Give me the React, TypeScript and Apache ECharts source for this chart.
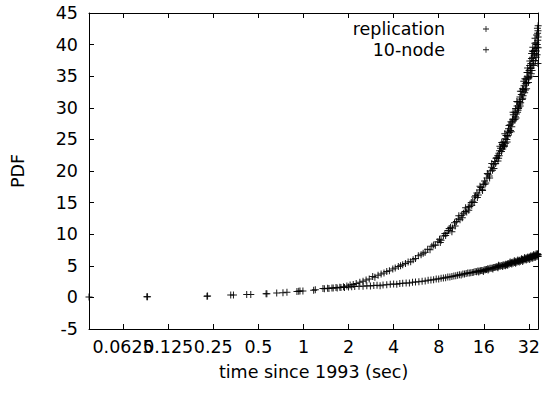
import React, { useEffect, useRef } from "react";
import * as echarts from "echarts";

// ---- axis definitions ----
const xTickLabels = ["0.0625", "0.125", "0.25", "0.5", "1", "2", "4", "8", "16", "32"];
const xMin = 0.037;
const xMax = 36.9;
const yMin = -5;
const yMax = 45;
const yStep = 5;
const xAxisName = "time since 1993 (sec)";
const yAxisName = "PDF";
const seriesNames = ["replication", "10-node"];

// ---- data: [time, pdf] ----
const replicationPoints: [number, number][] = [
  [0.037, 0.05], [0.090, 0.10], [0.227, 0.20], [0.327, 0.38], [0.418, 0.45], [0.563, 0.58], [0.663, 0.70],
  [0.776, 0.80], [0.905, 0.95], [0.948, 1.00], [1.17, 1.15], [1.35, 1.40], [1.45, 1.45], [1.55, 1.50],
  [1.65, 1.55], [1.75, 1.62], [1.85, 1.70], [1.95, 1.82],
  [2.05, 1.95], [2.15, 2.05], [2.25, 2.20], [2.38, 2.40], [2.50, 2.55], [2.62, 2.75], [2.75, 2.90],
  [2.90, 3.30], [3.00, 3.20], [3.15, 3.50], [3.30, 3.70], [3.45, 3.85], [3.60, 4.10], [3.75, 4.20],
  [3.95, 4.50], [4.10, 4.65], [4.30, 4.90], [4.45, 5.00], [4.60, 5.15], [4.80, 5.35], [5.00, 5.60],
  [5.20, 5.65], [5.40, 5.95], [5.60, 6.15], [5.85, 6.60], [6.10, 6.75], [6.30, 7.00], [6.50, 7.15],
  [6.75, 7.60], [7.00, 7.55], [7.20, 8.10], [7.40, 8.30], [7.60, 8.25], [7.90, 8.80], [8.10, 9.20],
  [8.30, 9.05], [8.60, 9.70], [8.80, 10.1], [9.10, 10.2], [9.40, 10.9], [9.60, 11.1], [9.90, 11.0],
  [10.2, 11.8], [10.5, 12.0], [10.8, 12.4], [11.1, 12.3], [11.4, 13.0], [11.7, 13.3], [12.0, 13.6],
  [12.3, 13.5], [12.6, 14.3], [12.9, 14.4], [13.2, 15.0], [13.5, 15.2], [13.8, 15.0], [14.1, 16.1],
  [14.4, 16.5], [14.7, 16.2], [15.0, 17.0], [15.3, 17.4], [15.6, 17.1], [15.9, 17.9], [16.2, 18.4],
  [16.5, 18.1], [16.8, 18.9], [17.1, 19.5], [17.4, 19.2], [17.7, 20.0], [18.0, 20.6], [18.3, 20.1],
  [18.6, 21.0], [18.9, 21.5], [19.2, 21.2], [19.5, 22.1], [19.8, 22.4], [20.1, 22.0], [20.2, 22.8],
  [20.4, 23.2], [20.7, 23.6], [21.0, 23.1], [21.1, 24.5], [21.3, 24.2], [21.6, 24.6], [21.9, 24.0],
  [22.0, 23.9], [22.2, 25.1], [22.4, 24.4], [22.5, 25.6], [22.8, 25.0], [23.0, 25.4], [23.1, 26.3],
  [23.4, 26.7], [23.7, 26.1], [24.0, 27.3], [24.1, 26.4], [24.3, 27.8], [24.6, 27.0], [24.9, 28.2],
  [25.0, 27.9], [25.2, 28.9], [25.5, 28.1], [25.8, 29.3], [26.0, 28.6], [26.1, 29.9], [26.4, 29.0],
  [26.7, 30.3], [26.9, 29.3], [27.0, 30.9], [27.1, 29.6], [27.3, 29.9], [27.6, 31.0], [27.9, 31.7],
  [28.0, 30.3], [28.2, 30.8], [28.5, 32.1], [28.8, 32.6], [29.0, 33.0], [29.1, 31.5], [29.4, 32.9],
  [29.7, 33.5], [30.0, 32.4], [30.1, 34.6], [30.3, 33.8], [30.6, 34.5], [30.9, 33.0], [31.0, 33.9],
  [31.2, 34.9], [31.4, 36.3], [31.5, 35.6], [31.8, 34.0], [32.0, 34.8], [32.1, 35.9], [32.4, 36.7],
  [32.7, 35.0], [33.0, 37.0], [33.1, 36.3], [33.3, 37.8], [33.6, 35.9], [33.9, 38.0], [34.0, 39.6],
  [34.2, 38.9], [34.5, 36.7], [34.8, 39.1], [35.0, 38.6], [35.1, 40.2], [35.4, 37.5], [35.7, 40.3],
  [35.9, 39.0], [36.0, 41.5], [36.3, 38.4], [36.5, 42.6], [36.6, 41.8], [36.7, 40.7], [36.8, 37.0],
  [36.9, 43.0], [36.9, 39.5],
  [8.2, 8.7], [8.9, 9.8], [9.3, 10.6], [9.8, 10.4], [10.3, 11.3], [10.9, 12.9], [11.5, 12.6],
  [12.1, 14.2], [12.7, 13.8], [13.3, 14.6], [13.9, 15.9], [14.5, 15.8], [15.1, 17.6], [15.7, 16.9],
  [16.3, 17.9], [16.9, 19.6], [17.5, 18.9], [18.1, 21.2], [18.7, 20.4], [19.3, 22.0], [19.9, 21.6],
  [20.5, 23.9], [21.4, 23.5], [22.1, 25.9], [22.9, 24.6], [23.6, 27.2], [24.4, 26.2], [25.1, 29.3],
  [25.9, 28.2], [26.6, 31.0], [27.4, 30.1], [28.1, 32.6], [28.9, 31.3], [29.6, 34.2], [30.4, 32.8],
  [31.1, 35.6], [31.9, 34.6], [32.5, 37.4], [33.2, 35.4], [33.8, 39.0], [34.4, 37.4], [35.2, 41.0],
  [35.8, 38.0], [36.4, 40.0], [36.8, 42.2], [36.9, 41.2], [36.2, 39.6], [35.5, 39.4], [34.7, 38.3],
  [34.0, 36.9], [33.4, 38.6], [32.8, 36.2], [30.8, 34.0], [29.3, 31.9], [27.8, 30.6], [26.3, 28.4],
  [24.7, 27.6], [23.2, 25.6], [21.7, 23.8], [20.3, 22.4],
];

const tenNodePoints: [number, number][] = [
  [0.091, 0.12], [0.229, 0.22], [0.341, 0.37], [0.445, 0.47], [0.57, 0.58], [0.730, 0.75], [0.930, 0.97],
  [0.992, 1.00], [1.20, 1.20], [1.38, 1.35], [1.48, 1.42], [1.58, 1.48], [1.68, 1.50], [1.78, 1.55],
  [1.88, 1.58], [2.00, 1.65], [2.10, 1.70], [2.20, 1.72], [2.35, 1.75], [2.50, 1.78], [2.65, 1.85],
  [2.80, 1.82], [2.95, 1.88], [3.10, 1.92], [3.25, 1.86], [3.40, 1.98], [3.60, 2.02], [3.80, 2.08],
  [4.00, 2.12], [4.20, 2.08], [4.40, 2.20], [4.60, 2.24], [4.85, 2.28], [5.10, 2.26], [5.35, 2.38],
  [5.60, 2.42], [5.90, 2.48], [6.20, 2.55], [6.50, 2.60], [6.80, 2.70], [7.10, 2.74], [7.40, 2.80],
  [7.70, 2.90], [8.00, 2.92], [8.30, 3.02], [8.60, 3.08], [8.90, 3.12], [9.20, 3.22], [9.50, 3.24],
  [9.80, 3.30], [10.1, 3.40], [10.4, 3.42], [10.7, 3.50], [11.0, 3.58], [11.3, 3.56], [11.6, 3.70],
  [11.9, 3.72], [12.2, 3.78], [12.5, 3.88], [12.8, 3.86], [13.1, 3.90], [13.4, 3.94], [13.7, 3.98],
  [14.0, 4.08], [14.3, 4.04], [14.6, 4.16], [14.9, 4.18], [15.2, 4.22], [15.5, 4.26], [15.8, 4.24],
  [16.1, 4.36], [16.4, 4.38], [16.7, 4.42], [17.0, 4.52], [17.3, 4.48], [17.6, 4.60], [17.9, 4.62],
  [18.2, 4.60], [18.5, 4.72], [18.8, 4.74], [19.1, 4.76], [19.4, 4.86], [19.7, 4.80], [20.0, 4.92],
  [20.3, 4.96], [20.6, 4.92], [20.9, 5.06], [21.2, 5.00], [21.5, 5.12], [21.8, 5.14], [22.1, 5.10],
  [22.4, 5.26], [22.7, 5.18], [23.0, 5.30], [23.3, 5.36], [23.6, 5.26], [23.9, 5.44], [24.2, 5.36],
  [24.5, 5.48], [24.8, 5.56], [25.1, 5.42], [25.4, 5.60], [25.7, 5.54], [26.0, 5.64], [26.3, 5.72],
  [26.6, 5.56], [26.9, 5.76], [27.2, 5.68], [27.5, 5.82], [27.8, 5.88], [28.1, 5.72], [28.4, 5.94],
  [28.7, 5.84], [29.0, 5.98], [29.3, 6.04], [29.6, 5.86], [29.9, 6.10], [30.2, 6.00], [30.5, 6.14],
  [30.8, 6.22], [31.1, 6.00], [31.4, 6.26], [31.7, 6.16], [32.0, 6.30], [32.3, 6.38], [32.6, 6.12],
  [32.9, 6.42], [33.2, 6.28], [33.5, 6.46], [33.8, 6.54], [34.1, 6.28], [34.4, 6.58], [34.7, 6.40],
  [35.0, 6.60], [35.3, 6.68], [35.6, 6.42], [35.9, 6.70], [36.2, 6.52], [36.5, 6.74], [36.8, 6.80],
  [36.9, 6.48],
  [14.8, 4.0], [15.9, 4.1], [17.1, 4.35], [18.4, 4.5], [19.9, 4.7], [20.1, 5.1], [21.4, 4.9],
  [22.3, 5.0], [23.1, 5.1], [24.0, 5.6], [24.6, 5.3], [25.6, 5.8], [26.1, 5.4], [27.0, 5.9],
  [27.6, 5.6], [28.6, 6.1], [29.1, 5.7], [30.0, 6.3], [30.7, 5.9], [31.5, 6.4], [32.2, 6.0],
  [33.0, 6.6], [33.7, 6.2], [34.5, 6.8], [35.2, 6.3], [35.8, 6.9], [36.6, 6.9], [36.9, 6.7],
];

const PLUS = "path://M3,0H4V3H7V4H4V7H3V4H0V3H3Z";
const FONT = "DejaVu Sans";
const FS = 17.5;

function xLabel(v: number): string {
  const lv = Math.log2(v);
  const hit = xTickLabels.find((l) => Math.abs(Math.log2(parseFloat(l)) - lv) < 1e-4);
  return hit ?? "";
}

export default function App() {
  const ref = useRef<HTMLDivElement>(null);
  useEffect(() => {
    if (!ref.current) return;
    const chart = echarts.init(ref.current, undefined, { renderer: "svg" });
    const lineStyle = { color: "#000", width: 1 };
    const xBase: any = {
      type: "log",
      logBase: 2,
      min: xMin,
      max: xMax,
      splitNumber: 10,
      axisLine: { show: true, onZero: false, lineStyle },
      axisTick: { show: true, inside: true, length: 5, lineStyle },
      splitLine: { show: false },
      minorTick: { show: false },
    };
    const yBase: any = {
      type: "value",
      min: yMin,
      max: yMax,
      interval: yStep,
      axisLine: { show: true, onZero: false, lineStyle },
      axisTick: { show: true, inside: true, length: 5, lineStyle },
      splitLine: { show: false },
    };
    chart.setOption({
      animation: false,
      backgroundColor: "#fff",
      textStyle: { fontFamily: FONT, color: "#000" },
      grid: { left: 89, right: 4, top: 13, bottom: 67, containLabel: false },
      xAxis: [
        {
          ...xBase,
          position: "bottom",
          name: xAxisName,
          nameLocation: "middle",
          nameGap: 34,
          nameTextStyle: { fontFamily: FONT, fontSize: FS, color: "#000" },
          axisLabel: {
            show: true,
            margin: 9,
            fontFamily: FONT,
            fontSize: FS,
            color: "#000",
            showMinLabel: false,
            showMaxLabel: false,
            hideOverlap: false,
            formatter: (v: number) => xLabel(v),
          },
        },
        { ...xBase, position: "top", axisLabel: { show: false } },
      ],
      yAxis: [
        {
          ...yBase,
          position: "left",
          name: yAxisName,
          nameLocation: "middle",
          nameGap: 62,
          nameTextStyle: { fontFamily: FONT, fontSize: FS, color: "#000" },
          axisLabel: { show: true, margin: 11, fontFamily: FONT, fontSize: FS, color: "#000" },
        },
        { ...yBase, position: "right", axisLabel: { show: false } },
      ],
      legend: {
        orient: "vertical",
        right: 54,
        top: 19,
        align: "right",
        padding: 0,
        itemGap: 0.7,
        itemWidth: 6,
        itemHeight: 6,
        icon: PLUS,
        data: seriesNames,
        textStyle: {
          fontFamily: FONT,
          fontSize: FS,
          color: "#000",
          lineHeight: 20,
          padding: [0, 33, 0, 0],
        },
      },
      series: [
        {
          name: seriesNames[0],
          type: "scatter",
          xAxisIndex: 0,
          yAxisIndex: 0,
          symbol: PLUS,
          symbolSize: 7,
          clip: false,
          itemStyle: { color: "#000", opacity: 0.9 },
          data: replicationPoints,
        },
        {
          name: seriesNames[1],
          type: "scatter",
          xAxisIndex: 0,
          yAxisIndex: 0,
          symbol: PLUS,
          symbolSize: 7,
          clip: false,
          itemStyle: { color: "#000", opacity: 0.9 },
          data: tenNodePoints,
        },
      ],
    });
    return () => chart.dispose();
  }, []);
  return (
    <div
      ref={ref}
      style={{ position: "absolute", left: 0, top: 0, width: 543, height: 396, background: "#fff" }}
    />
  );
}
